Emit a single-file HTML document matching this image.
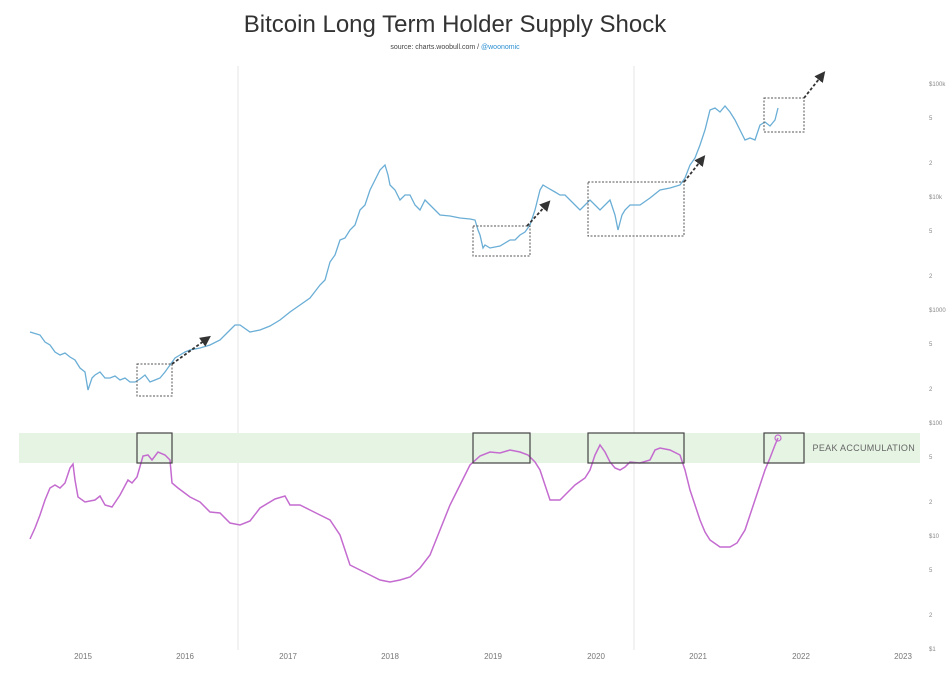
<!DOCTYPE html>
<html><head><meta charset="utf-8"><style>
body{margin:0;background:#fff;width:952px;height:674px;overflow:hidden;font-family:"Liberation Sans",sans-serif}
</style></head><body>
<svg width="952" height="674" xmlns="http://www.w3.org/2000/svg" font-family="Liberation Sans, sans-serif">
<text x="455" y="32" text-anchor="middle" font-size="24" fill="#333">Bitcoin Long Term Holder Supply Shock</text>
<text x="455" y="49" text-anchor="middle" font-size="7" fill="#444">source: charts.woobull.com / <tspan fill="#2a8fd0">@woonomic</tspan></text>
<line x1="238" y1="66" x2="238" y2="650" stroke="#eee" stroke-width="1.5"/>
<line x1="634" y1="66" x2="634" y2="650" stroke="#eee" stroke-width="1.5"/>
<rect x="19" y="433" width="901" height="30" fill="#e6f4e3"/>
<text x="915" y="451" text-anchor="end" font-size="9" fill="#666" letter-spacing="0.3">PEAK ACCUMULATION</text>
<g font-size="6" fill="#888">
<text x="929" y="86">$100k</text><text x="929" y="120">5</text><text x="929" y="165">2</text>
<text x="929" y="199">$10k</text><text x="929" y="233">5</text><text x="929" y="278">2</text>
<text x="929" y="312">$1000</text><text x="929" y="346">5</text><text x="929" y="391">2</text>
<text x="929" y="425">$100</text><text x="929" y="459">5</text><text x="929" y="504">2</text>
<text x="929" y="538">$10</text><text x="929" y="572">5</text><text x="929" y="617">2</text>
<text x="929" y="651">$1</text>
</g>
<g font-size="8" fill="#777" text-anchor="middle">
<text x="83" y="659">2015</text><text x="185" y="659">2016</text><text x="288" y="659">2017</text><text x="390" y="659">2018</text><text x="493" y="659">2019</text><text x="596" y="659">2020</text><text x="698" y="659">2021</text><text x="801" y="659">2022</text><text x="903" y="659">2023</text>
</g>
<polyline fill="none" stroke="#6aaed6" stroke-width="1.3" points="30,332 40,335 45,342 50,345 55,352 60,355 65,353 70,357 75,360 80,368 85,372 88,390 92,378 95,375 100,372 105,378 110,378 115,376 120,380 125,378 130,382 135,382 140,379 145,375 150,382 155,380 160,378 165,372 170,365 175,358 180,355 185,352 190,350 200,348 210,345 220,340 230,330 235,325 240,325 250,332 260,330 270,326 280,320 290,312 300,305 310,298 320,285 325,280 330,262 335,255 340,240 345,238 350,230 355,225 360,210 365,205 370,190 375,180 380,170 385,165 388,175 390,185 395,190 400,200 405,195 410,195 415,205 420,210 425,200 430,205 435,210 440,215 450,216 460,218 470,219 475,220 478,230 480,235 483,248 485,245 490,248 500,246 510,240 515,240 520,235 525,232 530,225 535,210 540,190 543,185 548,188 555,192 560,195 565,195 570,200 575,205 580,210 585,205 590,200 595,205 600,210 605,205 610,200 615,215 618,230 622,215 625,210 630,205 640,205 650,198 660,190 670,188 680,185 685,178 690,165 695,158 700,145 705,130 710,110 715,108 720,112 725,106 730,112 735,120 740,130 745,140 750,138 755,140 760,125 765,122 770,126 775,120 778,108"/>
<polyline fill="none" stroke="#c46bd0" stroke-width="1.5" points="30,539 35,528 40,515 45,500 50,488 55,485 60,488 65,483 70,468 73,464 75,480 78,497 85,502 95,500 100,496 105,505 112,507 120,495 128,480 132,483 137,477 143,456 148,455 152,460 158,452 165,455 170,460 172,483 178,488 190,497 200,502 210,512 220,513 230,523 240,525 250,521 260,508 275,499 285,496 290,505 300,505 310,510 320,515 330,520 340,535 345,550 350,565 360,570 370,575 380,580 390,582 400,580 410,577 420,568 430,555 440,530 450,505 460,485 470,465 480,456 490,452 500,453 510,450 520,452 528,455 535,462 540,470 545,485 550,500 560,500 565,495 575,485 585,478 590,470 595,455 600,445 605,452 610,462 615,468 620,470 625,467 630,462 640,463 650,460 655,450 660,448 670,450 680,455 685,470 690,490 695,505 700,520 705,532 710,540 720,547 730,547 737,543 745,530 750,515 755,500 760,485 765,470 770,458 775,445 778,438"/>
<circle cx="778" cy="438" r="3" fill="none" stroke="#c46bd0" stroke-width="1.2"/>
<g fill="none" stroke="#555" stroke-width="1" stroke-dasharray="2,1.5">
<rect x="137" y="364" width="35" height="32"/>
<rect x="473" y="226" width="57" height="30"/>
<rect x="588" y="182" width="96" height="54"/>
<rect x="764" y="98" width="40" height="34"/>
</g>
<g fill="none" stroke="#444" stroke-width="1.2">
<rect x="137" y="433" width="35" height="30"/>
<rect x="473" y="433" width="57" height="30"/>
<rect x="588" y="433" width="96" height="30"/>
<rect x="764" y="433" width="40" height="30"/>
</g>
<defs><marker id="a" markerWidth="6" markerHeight="6" refX="4" refY="3" orient="auto"><path d="M0,0 L6,3 L0,6 z" fill="#333"/></marker></defs>
<g stroke="#333" stroke-width="1.8" stroke-dasharray="3,2" marker-end="url(#a)">
<line x1="172" y1="364" x2="208" y2="338"/>
<line x1="527" y1="226" x2="548" y2="203"/>
<line x1="684" y1="182" x2="703" y2="158"/>
<line x1="804" y1="98" x2="823" y2="74"/>
</g>
</svg>
</body></html>
